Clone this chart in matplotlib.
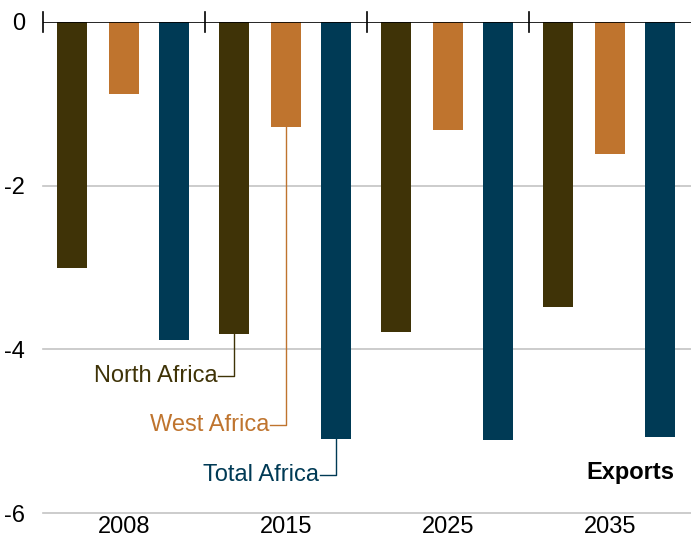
import matplotlib
matplotlib.use("Agg")
import matplotlib.pyplot as plt
import numpy as np

plt.rcParams['font.family'] = ['Liberation Sans', 'DejaVu Sans']

years = ["2008", "2015", "2025", "2035"]
series = ["North Africa", "West Africa", "Total Africa"]
north = [-3.00, -3.81, -3.79, -3.48]
west = [-0.88, -1.28, -1.32, -1.61]
total = [-3.89, -5.10, -5.11, -5.07]
colors = ["#3F3307", "#BF742E", "#003A55"]
yticks = [0, -2, -4, -6]

fig = plt.figure(figsize=(6.91, 5.39), dpi=100)
ax = fig.add_axes([43/691, 26/539, 648/691, 491/539])

x = np.arange(len(years))
width = 0.185
offsets = [-0.32, 0.0, 0.31]
for vals, off, c in zip([north, west, total], offsets, colors):
    ax.bar(x + off, vals, width=width, color=c, zorder=3)

ax.set_xlim(-0.5, 3.5)
ax.set_ylim(-6, 0)
for s in ax.spines.values():
    s.set_visible(False)

for yv in yticks[1:]:
    ax.axhline(yv, color="#c4c4c4", lw=1.2, zorder=1, clip_on=False)
ax.axhline(0, color="black", lw=1.2, zorder=4)
for b in [-0.5, 0.5, 1.5, 2.5]:
    ax.plot([b, b], [0.12, -0.12], color="black", lw=1.2, clip_on=False, zorder=4)

fs = 17
ax.set_yticks(yticks)
ax.set_yticklabels([str(v) for v in yticks], fontsize=fs)
ax.tick_params(axis='y', length=0, pad=13)
ax.set_xticks(x)
ax.set_xticklabels(years, fontsize=fs)
ax.tick_params(axis='x', length=0, pad=2)

# annotations for 2015 group
label_y = [-4.32, -4.93, -5.54]
vals2015 = [north[1], west[1], total[1]]
for i, (name, c) in enumerate(zip(series, colors)):
    bx = 1 + offsets[i]
    ly = label_y[i]
    ax.plot([bx, bx, bx - 0.1], [vals2015[i], ly, ly], color=c, lw=1, zorder=5)
    ax.text(bx - 0.105, ly, name, color=c, fontsize=fs, ha="right", va="center")

ax.text(3.40, -5.50, "Exports", fontsize=fs, fontweight="bold", ha="right", va="center")

fig.savefig("out.png", dpi=100)
